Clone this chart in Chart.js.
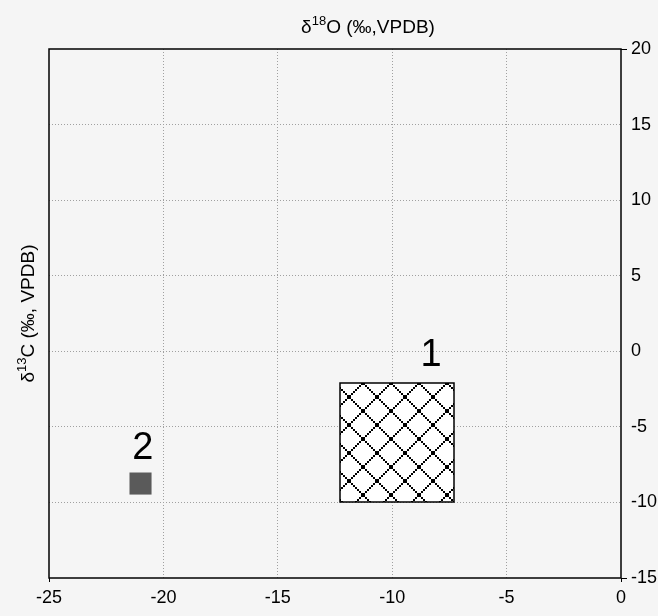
<!DOCTYPE html>
<html>
<head>
<meta charset="utf-8">
<script src="https://cdn.jsdelivr.net/npm/chart.js@4"></script>
<style>
  html, body { margin: 0; padding: 0; background: #f5f5f5; }
  #wrap { width: 658px; height: 616px; }
</style>
</head>
<body>
<div id="wrap"><canvas id="isoChart" width="658" height="616"></canvas></div>
<script>
// field 1: hatched box (d18O range, d13C range)
var box1X = [-12.3, -7.3];
var box1Y = [-10, -2.1];
// field 2: single sample
var pt2X = [-21];
var pt2Y = [-8.75];
// field labels
var labelText = ['1', '2'];
var labelX = [-8.3, -20.9];
var labelY = [-0.3, -6.4];
// axes
var xTicks = [-25, -20, -15, -10, -5, 0];
var yTicks = [-15, -10, -5, 0, 5, 10, 15, 20];

var FONT = 'Liberation Sans, Arial, sans-serif';

function makeHatch() {
  var n = 28;
  var c = document.createElement('canvas');
  c.width = n; c.height = n;
  var g = c.getContext('2d');
  g.fillStyle = '#000';
  for (var i = 0; i < n; i += 2) {
    g.fillRect(i, i, 2, 2);
    g.fillRect(n - 2 - i, i, 2, 2);
  }
  return c;
}

function drawSup(ctx, x, y, parts) {
  // parts: [text, isSup]
  var total = 0;
  parts.forEach(function (p) {
    ctx.font = (p[1] ? '13px ' : '19px ') + FONT;
    total += ctx.measureText(p[0]).width;
  });
  var cx = x - total / 2;
  parts.forEach(function (p) {
    ctx.font = (p[1] ? '13px ' : '19px ') + FONT;
    ctx.fillText(p[0], cx, p[1] ? y - 8 : y);
    cx += ctx.measureText(p[0]).width;
  });
}

var overlay = {
  id: 'overlay',
  beforeDraw: function (chart) {
    var ctx = chart.ctx;
    ctx.save();
    ctx.fillStyle = '#f5f5f5';
    ctx.fillRect(0, 0, chart.width, chart.height);
    ctx.restore();
  },
  beforeDatasetsDraw: function (chart) {
    var ctx = chart.ctx, xs = chart.scales.x, ys = chart.scales.y;
    var x0 = Math.round(xs.getPixelForValue(box1X[0])), x1 = Math.round(xs.getPixelForValue(box1X[1]));
    var y0 = Math.round(ys.getPixelForValue(box1Y[1])), y1 = Math.round(ys.getPixelForValue(box1Y[0]));
    ctx.save();
    ctx.fillStyle = '#ffffff';
    ctx.fillRect(x0, y0, x1 - x0, y1 - y0);
    var pat = ctx.createPattern(makeHatch(), 'repeat');
    ctx.translate(x0 + 9, y0 - 14);
    ctx.fillStyle = pat;
    ctx.fillRect(-9, 14, x1 - x0, y1 - y0);
    ctx.restore();
    ctx.save();
    ctx.strokeStyle = '#000';
    ctx.lineWidth = 1.5;
    ctx.strokeRect(x0, y0, x1 - x0, y1 - y0);
    ctx.restore();
  },
  afterDraw: function (chart) {
    var ctx = chart.ctx, a = chart.chartArea, xs = chart.scales.x, ys = chart.scales.y;
    ctx.save();
    ctx.strokeStyle = '#000';
    ctx.lineWidth = 1.5;
    ctx.strokeRect(a.left, a.top, a.right - a.left, a.bottom - a.top);
    ctx.fillStyle = '#000';
    ctx.textAlign = 'center';
    ctx.textBaseline = 'middle';
    ctx.font = '38px ' + FONT;
    for (var i = 0; i < labelText.length; i++) {
      ctx.fillText(labelText[i], xs.getPixelForValue(labelX[i]), ys.getPixelForValue(labelY[i]));
    }
    // axis titles
    ctx.textAlign = 'left';
    ctx.textBaseline = 'alphabetic';
    drawSup(ctx, 368, 33, [['δ', false], ['18', true], ['O (‰,VPDB)', false]]);
    ctx.translate(34, (a.top + a.bottom) / 2);
    ctx.rotate(-Math.PI / 2);
    drawSup(ctx, 0, 0, [['δ', false], ['13', true], ['C (‰, VPDB)', false]]);
    ctx.restore();
  }
};

function edgeColor(ctx, lo, hi) {
  var v = ctx.tick ? ctx.tick.value : null;
  return (v === lo || v === hi) ? 'rgba(0,0,0,0)' : '#a0a0a0';
}
function endTick(ctx, lo, hi) {
  var v = ctx.tick ? ctx.tick.value : null;
  return (v === lo || v === hi) ? '#000' : 'rgba(0,0,0,0)';
}

var chart = new Chart(document.getElementById('isoChart').getContext('2d'), {
  type: 'scatter',
  data: {
    datasets: [{
      label: '2',
      data: pt2X.map(function (x, i) { return { x: x, y: pt2Y[i] }; }),
      pointStyle: 'rect',
      pointRadius: 15.6,
      pointHoverRadius: 15.6,
      backgroundColor: '#5a5a5a',
      borderColor: '#5a5a5a',
      borderWidth: 0
    }]
  },
  options: {
    responsive: false,
    animation: false,
    events: [],
    layout: { padding: { left: 49, top: 49, right: 0, bottom: 0 } },
    plugins: { legend: { display: false }, tooltip: { enabled: false } },
    scales: {
      x: {
        type: 'linear', min: -25, max: 0,
        afterBuildTicks: function (s) { s.ticks = xTicks.map(function (v) { return { value: v }; }); },
        afterFit: function (s) { s.height = 38; },
        border: { display: false, dash: [1, 2] },
        grid: {
          color: function (c) { return edgeColor(c, -25, 0); },
          tickColor: function (c) { return endTick(c, -25, 0); },
          tickLength: 4,
          lineWidth: 1
        },
        ticks: { color: '#000', font: { family: FONT, size: 18 }, padding: 5, maxRotation: 0 }
      },
      y: {
        type: 'linear', position: 'right', min: -15, max: 20,
        afterBuildTicks: function (s) { s.ticks = yTicks.map(function (v) { return { value: v }; }); },
        afterFit: function (s) { s.width = 37; },
        border: { display: false, dash: [1, 2] },
        grid: {
          color: function (c) { return edgeColor(c, -15, 20); },
          tickColor: function (c) { return endTick(c, -15, 20); },
          tickLength: 6,
          lineWidth: 1
        },
        ticks: { color: '#000', font: { family: FONT, size: 18 }, padding: 4 }
      }
    }
  },
  plugins: [overlay]
});
</script>
</body>
</html>
